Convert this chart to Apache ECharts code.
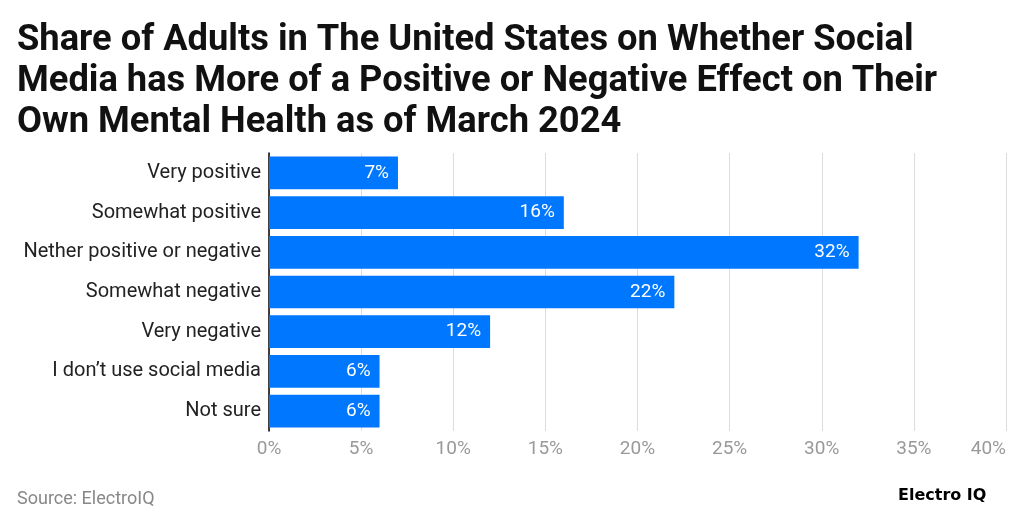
<!DOCTYPE html>
<html><head><meta charset="utf-8">
<script src="https://cdn.jsdelivr.net/npm/echarts@6/dist/echarts.min.js"></script>
<style>html,body{margin:0;padding:0;background:#fff}#c{width:1022px;height:529px}</style>
</head><body><div id="c"></div>
<script>
var categories = ["Very positive","Somewhat positive","Nether positive or negative","Somewhat negative","Very negative","I don\u2019t use social media","Not sure"];
var values = [7,16,32,22,12,6,6];
var tickLabels = ["0%","5%","10%","15%","20%","25%","30%","35%","40%"];

var chart = echarts.init(document.getElementById('c'), null, {renderer:'canvas'});
chart.setOption({
  backgroundColor:'#fff',
  animation:false,
  title:[{
    text:"Share of Adults in The United States on Whether Social\nMedia has More of a Positive or Negative Effect on Their\nOwn Mental Health as of March 2024",
    left:17, top:20, padding:0,
    textStyle:{fontFamily:'Roboto',fontWeight:'bold',fontSize:36.3,lineHeight:41,color:'#111'}
  },{
    text:"Source: ElectroIQ", left:17, top:490, padding:0,
    textStyle:{fontFamily:'Roboto',fontWeight:'normal',fontSize:18,color:'#888'}
  },{
    text:"Electro IQ", left:898, top:488, padding:0,
    textStyle:{fontFamily:'DejaVu Sans',fontWeight:'bold',fontSize:16,color:'#000'}
  }],
  grid:{left:269,right:16,top:153,bottom:98,containLabel:false},
  xAxis:{type:'value',min:0,max:40,interval:5,
    axisLine:{show:false},axisTick:{show:false},
    splitLine:{lineStyle:{color:'#ddd',width:1}},
    axisLabel:{formatter:function(v){return tickLabels[v/5];},color:'#999',fontFamily:'Roboto',fontSize:19,margin:9,alignMaxLabel:'right'}
  },
  yAxis:{type:'category',data:categories,inverse:true,
    axisLine:{show:true,lineStyle:{color:'#000',width:1.5}},axisTick:{show:false},
    axisLabel:{color:'#222',fontFamily:'Roboto',fontSize:20,margin:8}
  },
  series:[{type:'bar',data:values,barCategoryGap:'17.6%',
    itemStyle:{color:'#0077FF'},
    label:{show:true,position:'insideRight',formatter:'{c}%',color:'#fff',fontFamily:'Roboto',fontSize:19,distance:9}
  }]
});
</script></body></html>
